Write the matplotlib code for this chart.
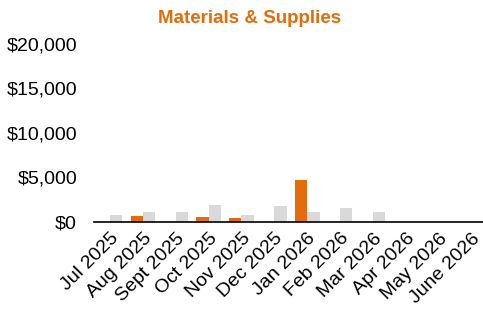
import numpy as np
import matplotlib.pyplot as plt
from matplotlib.ticker import FuncFormatter

plt.rcParams['font.family'] = ['Liberation Sans', 'DejaVu Sans']

months = ['Jul 2025', 'Aug 2025', 'Sept 2025', 'Oct 2025', 'Nov 2025', 'Dec 2025',
          'Jan 2026', 'Feb 2026', 'Mar 2026', 'Apr 2026', 'May 2026', 'June 2026']
current = [0, 630, 0, 480, 370, 0, 4720, 0, 0, 0, 0, 0]
prior = [740, 1070, 1070, 1880, 700, 1800, 1070, 1510, 1070, 0, 0, 0]

ORANGE = '#E46C0A'
GRAY = '#D9D9D9'

fig = plt.figure(figsize=(4.83, 3.12), dpi=100)
ax = fig.add_axes([0.194, 0.29, 0.816, 0.57])

x = np.arange(len(months))
w = 0.375
ax.bar(x - w / 2, current, width=w, color=ORANGE)
ax.bar(x + w / 2, prior, width=w, color=GRAY)

ax.set_xlim(-0.5, len(months) - 0.5)
ax.set_ylim(0, 20000)
ax.set_yticks([0, 5000, 10000, 15000, 20000])
ax.yaxis.set_major_formatter(FuncFormatter(lambda v, p: f'${v:,.0f}'))

ax.set_xticks(x)
ax.set_xticklabels(months, rotation=45, ha='right', rotation_mode='anchor')
ax.tick_params(axis='both', length=0, labelsize=14, colors='black')
ax.tick_params(axis='y', pad=12)
ax.tick_params(axis='x', pad=6)

for s in ['top', 'right', 'left']:
    ax.spines[s].set_visible(False)
ax.spines['bottom'].set_color('black')
ax.spines['bottom'].set_linewidth(1.2)

fig.text(0.516, 0.94, 'Materials & Supplies', color=ORANGE, fontsize=13.5,
         fontweight='bold', ha='center', va='center')

fig.savefig('out.png', dpi=100)
